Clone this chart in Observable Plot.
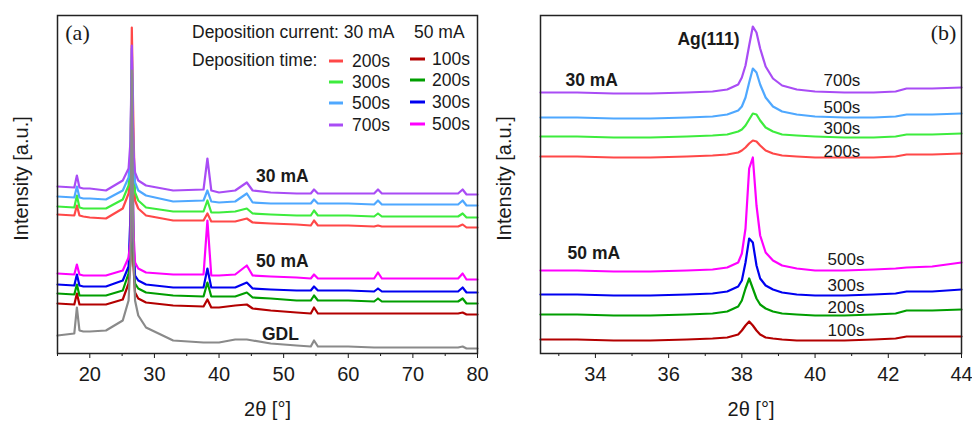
<!DOCTYPE html>
<html><head><meta charset="utf-8">
<script src="https://cdn.jsdelivr.net/npm/d3@7"></script>
<script src="https://cdn.jsdelivr.net/npm/@observablehq/plot@0.6"></script>
<style>
html,body{margin:0;padding:0;background:#fff;}
#wrap{position:relative;width:972px;height:421px;overflow:hidden;}
#pa{position:absolute;left:0;top:0;}
#pb{position:absolute;left:490px;top:0;}
#leg{position:absolute;left:0;top:0;pointer-events:none;}
</style></head><body>
<div id="wrap"><div id="pa"></div><div id="pb"></div><svg id="leg" width="490" height="421"></svg></div>
<script>
// ---------- Panel (a): 2θ grid (degrees) and intensities (a.u.) ----------
const twoThetaA = [15, 17.6, 18.0, 18.4, 19, 20, 22.5, 25.1, 26.0, 26.3, 26.5, 26.75, 27.0, 27.5, 28.7, 32.9, 37.6, 38.2, 38.8, 40, 42.5, 44.3, 45.2, 48, 52, 54.2, 54.7, 55.3, 60, 64.0, 64.6, 65.2, 70, 77.0, 77.7, 78.3, 80];
const a30_700 = [167,166,178,166,165,165,163,173,185,213,308,203,181,173,168,163,164,195,163,161,163,171,163,161,160,160,164,160,160,160,164,160,160,160,164,159,159];
const a30_500 = [157,156,167,156,155,155,154,163,176,203,305,193,171,163,158,152,153,163,152,151,152,160,151,150,150,150,154,150,150,149,153,149,149,149,153,148,148];
const a30_300 = [147,146,158,146,145,145,145,154,168,193,293,183,161,153,146,142,142,153,141,141,142,145,140,139,138,138,143,138,138,137,140,137,137,137,140,136,136];
const a30_200 = [139,138,148,138,137,136,135,145,160,183,326,228,153,145,138,133,133,140,132,132,132,135,131,130,129,128,133,128,128,127,128,127,127,127,129,126,126];
const a50_500 = [80,79,89,79,78,78,78,83,96,113,263,123,91,85,81,79,79,133,78,78,79,88,78,77,76,75,79,75,75,75,81,75,75,75,80,74,74];
const a50_300 = [69,68,79,68,67,67,67,73,87,140,253,113,78,73,69,66,66,85,66,66,66,71,65,64,63,63,67,63,63,62,65,62,62,62,66,61,61];
const a50_200 = [60,59,69,58,58,58,58,63,80,103,243,98,70,65,61,58,57,71,57,57,57,61,56,55,53,53,58,53,53,52,55,52,52,52,55,50,50];
const a50_100 = [50,49,60,49,49,49,49,54,70,93,233,88,61,55,51,48,47,54,46,46,48,49,45,43,41,40,46,40,40,40,40,40,40,40,41,39,39];
const aGDL    = [18,20,46,23,22,22,23,33,53,93,283,103,53,38,26,13,11,11,11,11,14,14,13,10,8,7,13,7,7,6,6,6,6,6,7,5,5];

// ---------- Panel (b): zoom on Ag(111) ----------
const twoThetaB = [32.5, 33.5, 34.5, 35.5, 36.5, 37.2, 37.6, 37.9, 38.0, 38.1, 38.2, 38.3, 38.4, 38.5, 38.65, 38.85, 39.1, 39.5, 40.0, 40.8, 41.6, 42.2, 42.5, 43.2, 44.0];
const b30_700 = [261,261,260,260,261,262,264,269,276,288,308,327,321,305,287,275,268,264,262,261,261,262,265,265,266];
const b30_500 = [236,236,235,235,236,237,239,243,247,256,271,285,281,269,256,247,242,239,237,236,236,237,239,239,240];
const b30_300 = [217,217,216,216,217,218,219,222,224,228,234,240,239,233,226,222,219,218,217,216,216,217,219,219,220];
const b30_200 = [197,197,196,196,197,198,199,201,203,206,210,213,212,208,203,200,198,197,196,196,196,197,199,199,200];
const b50_500 = [83,83,82,82,83,84,86,91,100,125,185,196,148,118,101,93,88,85,83,83,84,85,86,87,91];
const b50_300 = [59,59,58,58,59,60,62,67,73,91,115,111,88,75,68,64,61,59,58,58,59,60,62,62,64];
const b50_200 = [39,39,38,38,39,40,42,47,53,65,75,65,55,49,45,42,40,39,38,38,39,40,43,43,44];
const b50_100 = [14,14,13,13,14,15,16,19,23,28,32,28,23,19,16,15,14,13,13,13,14,15,17,17,17];

// ---------- tick labels / legend text ----------
const ticksA = [20, 30, 40, 50, 60, 70, 80];
const minorA = [15, 25, 35, 45, 55, 65, 75];
const ticksB = [34, 36, 38, 40, 42, 44];
const minorB = [33, 35, 37, 39, 41, 43];
const times30 = ["200s", "300s", "500s", "700s"];
const times50 = ["100s", "200s", "300s", "500s"];

// ---------- styles ----------
const FONT = '"Liberation Sans", Arial, sans-serif';
const C = {
  r30: "#ff4848", g30: "#3dec3d", b30: "#4fa8ff", p30: "#a94cf5",
  r50: "#b30000", g50: "#009e00", b50: "#0000f0", m50: "#ff00ff", gdl: "#8a8a8a"
};

function rows(xs, ys) { return xs.map((x, i) => ({x, y: ys[i]})); }

const seriesA = [
  [a50_100, C.r50], [a50_200, C.g50], [a50_300, C.b50], [a50_500, C.m50],
  [a30_200, C.r30], [a30_300, C.g30], [a30_500, C.b30], [a30_700, C.p30],
  [aGDL, C.gdl]
];
const seriesB = [
  [b50_100, C.r50], [b50_200, C.g50], [b50_300, C.b50], [b50_500, C.m50],
  [b30_200, C.r30], [b30_300, C.g30], [b30_500, C.b30], [b30_700, C.p30]
];

function commonMarks(ticks, minor) {
  return [
    Plot.axisX(ticks, {tickSize: 5, tickPadding: 8, fontSize: 20, label: null, fill: "#1a1a1a"}),
    Plot.axisX(minor, {tickSize: 3, tickFormat: () => "", label: null}),
    Plot.frame({stroke: "#222", strokeWidth: 1.5}),
    Plot.text(["2θ [°]"], {frameAnchor: "bottom", dy: 56, textAnchor: "middle", lineAnchor: "middle", fontSize: 20, fill: "#1a1a1a"}),
    Plot.text(["Intensity [a.u.]"], {frameAnchor: "left", dx: -36, dy: -6, rotate: -90, textAnchor: "middle", lineAnchor: "middle", fontSize: 20, fill: "#1a1a1a"})
  ];
}

const plotA = Plot.plot({
  width: 490, height: 421,
  marginLeft: 57, marginRight: 13, marginTop: 15, marginBottom: 68,
  x: {domain: [15, 80], label: null},
  y: {domain: [0, 338], axis: null, label: null},
  style: {fontFamily: FONT, fontSize: "20px", background: "white", color: "#1a1a1a"},
  marks: [
    ...seriesA.map(([v, c]) => Plot.line(rows(twoThetaA, v), {x: "x", y: "y", stroke: c, strokeWidth: 2.2})),
    ...commonMarks(ticksA, minorA),
    Plot.text(["(a)"], {frameAnchor: "top-left", dx: 20, dy: 17, textAnchor: "middle", lineAnchor: "middle", fontFamily: '"Liberation Serif", "Times New Roman", serif', fontSize: 22, fill: "#1a1a1a"}),
    Plot.text([{x: 49.8, y: 177, t: "30 mA"}, {x: 49.8, y: 92, t: "50 mA"}, {x: 49.5, y: 19, t: "GDL"}],
      {x: "x", y: "y", text: "t", fontWeight: "bold", fontSize: 17.5, fill: "#1a1a1a"})
  ]
});
document.getElementById("pa").appendChild(plotA);

const plotB = Plot.plot({
  width: 482, height: 421,
  marginLeft: 50, marginRight: 11, marginTop: 15, marginBottom: 68,
  x: {domain: [32.5, 44], label: null},
  y: {domain: [0, 338], axis: null, label: null},
  style: {fontFamily: FONT, fontSize: "20px", background: "white", color: "#1a1a1a", overflow: "visible"},
  marks: [
    ...seriesB.map(([v, c]) => Plot.line(rows(twoThetaB, v), {x: "x", y: "y", stroke: c, strokeWidth: 2.2})),
    ...commonMarks(ticksB, minorB),
    Plot.text(["(b)"], {frameAnchor: "top-right", dx: -18, dy: 17, textAnchor: "middle", lineAnchor: "middle", fontFamily: '"Liberation Serif", "Times New Roman", serif', fontSize: 22, fill: "#1a1a1a"}),
    Plot.text([{x: 37.09, y: 314, t: "Ag(111)"}], {x: "x", y: "y", text: "t", fontWeight: "bold", fontSize: 17.5, fill: "#1a1a1a"}),
    Plot.text([{x: 33.18, y: 273, t: "30 mA"}, {x: 33.24, y: 100, t: "50 mA"}],
      {x: "x", y: "y", text: "t", textAnchor: "start", fontWeight: "bold", fontSize: 17.5, fill: "#1a1a1a"}),
    Plot.text([
      {x: 40.23, y: 273, t: times30[3]}, {x: 40.23, y: 246, t: times30[2]},
      {x: 40.23, y: 225, t: times30[1]}, {x: 40.23, y: 202, t: times30[0]},
      {x: 40.34, y: 94, t: times50[3]}, {x: 40.34, y: 68, t: times50[2]},
      {x: 40.34, y: 46, t: times50[1]}, {x: 40.34, y: 23, t: times50[0]}
    ], {x: "x", y: "y", text: "t", textAnchor: "start", fontSize: 17, fill: "#1a1a1a"})
  ]
});
document.getElementById("pb").appendChild(plotB);

// ---------- legend for panel (a) ----------
const leg = d3.select("#leg").style("font-family", FONT).style("font-size", "17.5px").attr("fill", "#1a1a1a");
leg.append("text").attr("x", 192).attr("y", 38).text("Deposition current: 30 mA");
leg.append("text").attr("x", 414).attr("y", 38).text("50 mA");
leg.append("text").attr("x", 192).attr("y", 66).text("Deposition time:");
const col30 = [C.r30, C.g30, C.b30, C.p30];
const col50 = [C.r50, C.g50, C.b50, C.m50];
const rowY30 = [61, 82, 103, 125];
const rowY50 = [59, 80, 102, 124];
times30.forEach((t, i) => {
  leg.append("line").attr("x1", 329).attr("x2", 343).attr("y1", rowY30[i]).attr("y2", rowY30[i]).attr("stroke", col30[i]).attr("stroke-width", 3);
  leg.append("text").attr("x", 352).attr("y", rowY30[i] + 6.3).text(t);
});
times50.forEach((t, i) => {
  leg.append("line").attr("x1", 410).attr("x2", 425).attr("y1", rowY50[i]).attr("y2", rowY50[i]).attr("stroke", col50[i]).attr("stroke-width", 3);
  leg.append("text").attr("x", 432).attr("y", rowY50[i] + 6.3).text(t);
});
</script>
</body></html>
